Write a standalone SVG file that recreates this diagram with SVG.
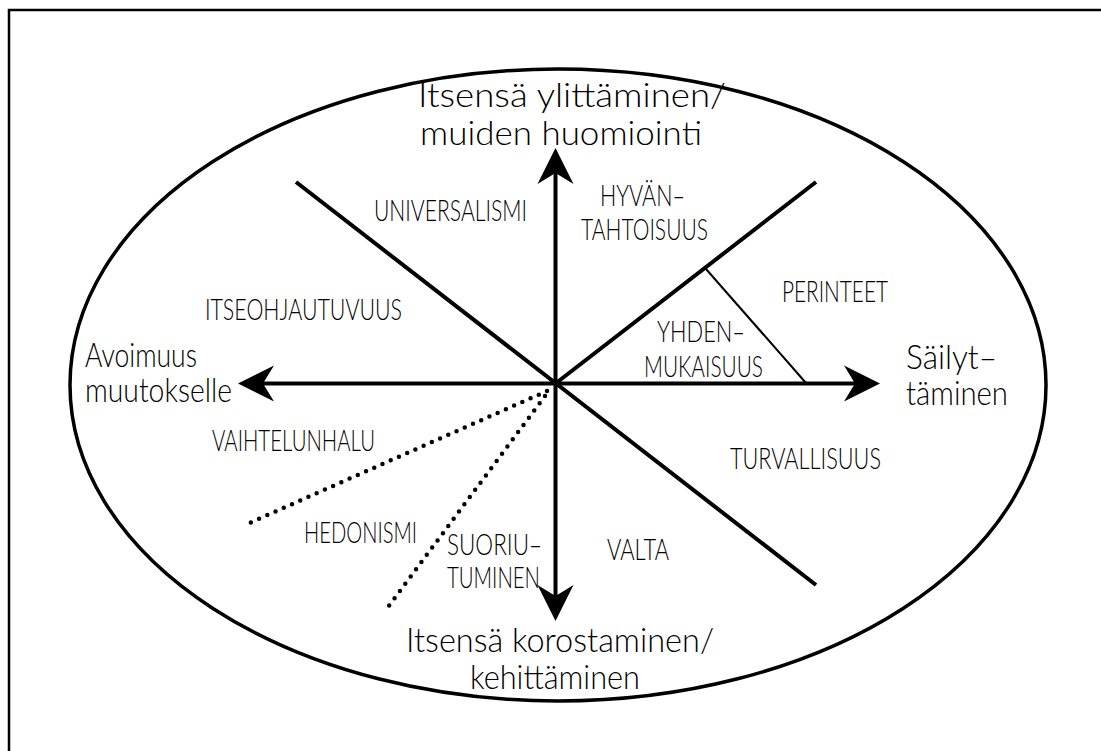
<svg xmlns="http://www.w3.org/2000/svg" width="1101" height="751" viewBox="0 0 1101 751">
<style>
.big{font-family:Lato,"Liberation Sans",Arial,sans-serif;font-weight:300;font-size:34px;fill:#000}
.cap{font-family:Lato,"Liberation Sans",Arial,sans-serif;font-weight:300;font-size:30px;fill:#000}
.ax{stroke:#000;stroke-width:4;fill:none}
.thin{stroke:#000;stroke-width:2;fill:none}
.dot{stroke:#000;stroke-width:4.5;stroke-linecap:round;stroke-dasharray:0 9;fill:none}
</style>
<defs>
<path id="ah" d="M0,0 L-36,-18 L-25,0 L-36,18 Z" fill="#000"/>
</defs>
<rect x="9" y="10" width="1100" height="750" fill="#fff" stroke="#000" stroke-width="2.5"/>
<ellipse id="frame" cx="558" cy="385" rx="488" ry="316" fill="none" stroke="#000" stroke-width="3.5"/>
<g id="connectors">
<line class="ax" x1="555.5" y1="170" x2="555.5" y2="600"/>
<line class="ax" x1="260" y1="383.5" x2="858" y2="383.5"/>
<line class="ax" x1="296" y1="182" x2="816" y2="585"/>
<line class="ax" x1="555.5" y1="383.5" x2="816" y2="182"/>
<line class="thin" x1="706" y1="269" x2="806" y2="383"/>
<line class="dot" x1="547" y1="391" x2="245" y2="525"/>
<line class="dot" x1="545" y1="396" x2="385" y2="611"/>
<use href="#ah" transform="translate(880,383.5)"/>
<use href="#ah" transform="translate(238,383.5) rotate(180)"/>
<use href="#ah" transform="translate(555.5,148) rotate(-90)"/>
<use href="#ah" transform="translate(555.5,621) rotate(90)"/>
</g>
<g id="axis-top">
<text class="big" x="418" y="107" textLength="308" lengthAdjust="spacingAndGlyphs">Itsensä ylittäminen/</text>
<text class="big" x="420" y="145" textLength="282" lengthAdjust="spacingAndGlyphs">muiden huomiointi</text>
</g>
<g id="axis-left">
<text class="big" x="85" y="367" textLength="112" lengthAdjust="spacingAndGlyphs">Avoimuus</text>
<text class="big" x="85" y="402" textLength="147" lengthAdjust="spacingAndGlyphs">muutokselle</text>
</g>
<g id="axis-right">
<text class="big" x="906" y="369" textLength="91" lengthAdjust="spacingAndGlyphs">Säilyt–</text>
<text class="big" x="906" y="405" textLength="102" lengthAdjust="spacingAndGlyphs">täminen</text>
</g>
<g id="axis-bottom">
<text class="big" x="406" y="652" textLength="308" lengthAdjust="spacingAndGlyphs">Itsensä korostaminen/</text>
<text class="big" x="470" y="689" textLength="170" lengthAdjust="spacingAndGlyphs">kehittäminen</text>
</g>
<g id="universalismi"><text class="cap" x="374" y="221" textLength="153" lengthAdjust="spacingAndGlyphs">UNIVERSALISMI</text></g>
<g id="hyvantahtoisuus">
<text class="cap" x="600" y="206" textLength="85" lengthAdjust="spacingAndGlyphs">HYVÄN–</text>
<text class="cap" x="581" y="240" textLength="127" lengthAdjust="spacingAndGlyphs">TAHTOISUUS</text>
</g>
<g id="itseohjautuvuus"><text class="cap" x="205" y="320" textLength="197" lengthAdjust="spacingAndGlyphs">ITSEOHJAUTUVUUS</text></g>
<g id="perinteet"><text class="cap" x="782" y="302" textLength="106" lengthAdjust="spacingAndGlyphs">PERINTEET</text></g>
<g id="yhdenmukaisuus">
<text class="cap" x="657" y="342" textLength="88" lengthAdjust="spacingAndGlyphs">YHDEN–</text>
<text class="cap" x="644" y="377" textLength="119" lengthAdjust="spacingAndGlyphs">MUKAISUUS</text>
</g>
<g id="turvallisuus"><text class="cap" x="730" y="469" textLength="151" lengthAdjust="spacingAndGlyphs">TURVALLISUUS</text></g>
<g id="vaihtelunhalu"><text class="cap" x="212" y="451" textLength="163" lengthAdjust="spacingAndGlyphs">VAIHTELUNHALU</text></g>
<g id="hedonismi"><text class="cap" x="304" y="543" textLength="113" lengthAdjust="spacingAndGlyphs">HEDONISMI</text></g>
<g id="suoriutuminen">
<text class="cap" x="447" y="555" textLength="95" lengthAdjust="spacingAndGlyphs">SUORIU–</text>
<text class="cap" x="447" y="588" textLength="93" lengthAdjust="spacingAndGlyphs">TUMINEN</text>
</g>
<g id="valta"><text class="cap" x="607" y="560" textLength="62" lengthAdjust="spacingAndGlyphs">VALTA</text></g>
</svg>
